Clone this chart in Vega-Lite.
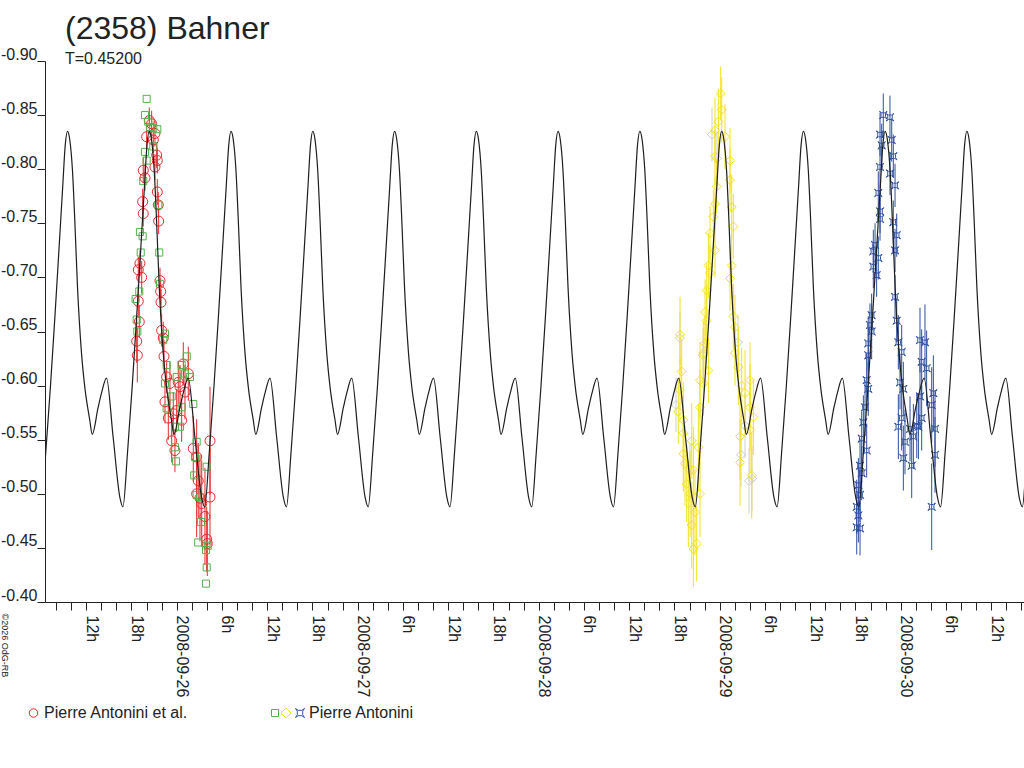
{
  "$schema": "https://vega.github.io/schema/vega-lite/v6.json",
  "width": 979,
  "height": 541,
  "autosize": "none",
  "padding": {"left": 45, "top": 61, "right": 0, "bottom": 166},
  "background": "white",
  "title": {
    "text": "(2358) Bahner",
    "subtitle": "T=0.45200",
    "anchor": "start",
    "frame": "group",
    "dx": 20,
    "offset": -22,
    "font": "Liberation Sans",
    "fontSize": 32,
    "fontWeight": "normal",
    "color": "#222",
    "subtitleFont": "Liberation Sans",
    "subtitleFontSize": 16,
    "subtitleColor": "#222",
    "subtitlePadding": 5
  },
  "datasets": {
    "model": [
      {"t": -18.38, "m": -0.497}, {"t": -17.96, "m": -0.488}, {"t": -17.36, "m": -0.538}, {"t": -16.74, "m": -0.599}, {"t": -16.17, "m": -0.661}, {"t": -15.64, "m": -0.722}, {"t": -15.11, "m": -0.784}, {"t": -14.78, "m": -0.822},
      {"t": -14.48, "m": -0.835}, {"t": -14.17, "m": -0.827}, {"t": -13.82, "m": -0.799}, {"t": -13.51, "m": -0.753}, {"t": -13.15, "m": -0.691}, {"t": -12.62, "m": -0.630}, {"t": -12.19, "m": -0.599}, {"t": -11.52, "m": -0.568}, {"t": -11.20, "m": -0.555}, {"t": -10.41, "m": -0.580}, {"t": -9.97, "m": -0.593}, {"t": -9.31, "m": -0.607}, {"t": -8.42, "m": -0.552}, {"t": -7.54, "m": -0.497}, {"t": -7.12, "m": -0.488}, {"t": -6.52, "m": -0.538}, {"t": -5.90, "m": -0.599}, {"t": -5.33, "m": -0.661}, {"t": -4.80, "m": -0.722}, {"t": -4.27, "m": -0.784}, {"t": -3.94, "m": -0.822},
      {"t": -3.64, "m": -0.835}, {"t": -3.33, "m": -0.827}, {"t": -2.98, "m": -0.799}, {"t": -2.67, "m": -0.753}, {"t": -2.31, "m": -0.691}, {"t": -1.78, "m": -0.630}, {"t": -1.35, "m": -0.599}, {"t": -0.68, "m": -0.568}, {"t": -0.36, "m": -0.555}, {"t": 0.43, "m": -0.580}, {"t": 0.87, "m": -0.593}, {"t": 1.53, "m": -0.607}, {"t": 2.42, "m": -0.552}, {"t": 3.30, "m": -0.497}, {"t": 3.72, "m": -0.488}, {"t": 4.32, "m": -0.538}, {"t": 4.94, "m": -0.599}, {"t": 5.51, "m": -0.661}, {"t": 6.04, "m": -0.722}, {"t": 6.57, "m": -0.784}, {"t": 6.90, "m": -0.822},
      {"t": 7.20, "m": -0.835}, {"t": 7.51, "m": -0.827}, {"t": 7.86, "m": -0.799}, {"t": 8.17, "m": -0.753}, {"t": 8.53, "m": -0.691}, {"t": 9.06, "m": -0.630}, {"t": 9.49, "m": -0.599}, {"t": 10.16, "m": -0.568}, {"t": 10.48, "m": -0.555}, {"t": 11.27, "m": -0.580}, {"t": 11.71, "m": -0.593}, {"t": 12.37, "m": -0.607}, {"t": 13.26, "m": -0.552}, {"t": 14.14, "m": -0.497}, {"t": 14.56, "m": -0.488}, {"t": 15.16, "m": -0.538}, {"t": 15.78, "m": -0.599}, {"t": 16.35, "m": -0.661}, {"t": 16.88, "m": -0.722}, {"t": 17.41, "m": -0.784}, {"t": 17.74, "m": -0.822},
      {"t": 18.04, "m": -0.835}, {"t": 18.35, "m": -0.827}, {"t": 18.70, "m": -0.799}, {"t": 19.01, "m": -0.753}, {"t": 19.37, "m": -0.691}, {"t": 19.90, "m": -0.630}, {"t": 20.33, "m": -0.599}, {"t": 21.00, "m": -0.568}, {"t": 21.32, "m": -0.555}, {"t": 22.11, "m": -0.580}, {"t": 22.55, "m": -0.593}, {"t": 23.21, "m": -0.607}, {"t": 24.10, "m": -0.552}, {"t": 24.98, "m": -0.497}, {"t": 25.40, "m": -0.488}, {"t": 26.00, "m": -0.538}, {"t": 26.62, "m": -0.599}, {"t": 27.19, "m": -0.661}, {"t": 27.72, "m": -0.722}, {"t": 28.25, "m": -0.784}, {"t": 28.58, "m": -0.822},
      {"t": 28.88, "m": -0.835}, {"t": 29.19, "m": -0.827}, {"t": 29.54, "m": -0.799}, {"t": 29.85, "m": -0.753}, {"t": 30.21, "m": -0.691}, {"t": 30.74, "m": -0.630}, {"t": 31.17, "m": -0.599}, {"t": 31.84, "m": -0.568}, {"t": 32.16, "m": -0.555}, {"t": 32.95, "m": -0.580}, {"t": 33.39, "m": -0.593}, {"t": 34.05, "m": -0.607}, {"t": 34.94, "m": -0.552}, {"t": 35.82, "m": -0.497}, {"t": 36.24, "m": -0.488}, {"t": 36.84, "m": -0.538}, {"t": 37.46, "m": -0.599}, {"t": 38.03, "m": -0.661}, {"t": 38.56, "m": -0.722}, {"t": 39.09, "m": -0.784}, {"t": 39.42, "m": -0.822},
      {"t": 39.72, "m": -0.835}, {"t": 40.03, "m": -0.827}, {"t": 40.38, "m": -0.799}, {"t": 40.69, "m": -0.753}, {"t": 41.05, "m": -0.691}, {"t": 41.58, "m": -0.630}, {"t": 42.01, "m": -0.599}, {"t": 42.68, "m": -0.568}, {"t": 43.00, "m": -0.555}, {"t": 43.79, "m": -0.580}, {"t": 44.23, "m": -0.593}, {"t": 44.89, "m": -0.607}, {"t": 45.78, "m": -0.552}, {"t": 46.66, "m": -0.497}, {"t": 47.08, "m": -0.488}, {"t": 47.68, "m": -0.538}, {"t": 48.30, "m": -0.599}, {"t": 48.87, "m": -0.661}, {"t": 49.40, "m": -0.722}, {"t": 49.93, "m": -0.784}, {"t": 50.26, "m": -0.822},
      {"t": 50.56, "m": -0.835}, {"t": 50.87, "m": -0.827}, {"t": 51.22, "m": -0.799}, {"t": 51.53, "m": -0.753}, {"t": 51.89, "m": -0.691}, {"t": 52.42, "m": -0.630}, {"t": 52.85, "m": -0.599}, {"t": 53.52, "m": -0.568}, {"t": 53.84, "m": -0.555}, {"t": 54.63, "m": -0.580}, {"t": 55.07, "m": -0.593}, {"t": 55.73, "m": -0.607}, {"t": 56.62, "m": -0.552}, {"t": 57.50, "m": -0.497}, {"t": 57.92, "m": -0.488}, {"t": 58.52, "m": -0.538}, {"t": 59.14, "m": -0.599}, {"t": 59.71, "m": -0.661}, {"t": 60.24, "m": -0.722}, {"t": 60.77, "m": -0.784}, {"t": 61.10, "m": -0.822},
      {"t": 61.41, "m": -0.835}, {"t": 61.72, "m": -0.827}, {"t": 62.07, "m": -0.799}, {"t": 62.38, "m": -0.753}, {"t": 62.74, "m": -0.691}, {"t": 63.27, "m": -0.630}, {"t": 63.70, "m": -0.599}, {"t": 64.37, "m": -0.568}, {"t": 64.69, "m": -0.555}, {"t": 65.48, "m": -0.580}, {"t": 65.92, "m": -0.593}, {"t": 66.58, "m": -0.607}, {"t": 67.47, "m": -0.552}, {"t": 68.35, "m": -0.497}, {"t": 68.77, "m": -0.488}, {"t": 69.37, "m": -0.538}, {"t": 69.99, "m": -0.599}, {"t": 70.56, "m": -0.661}, {"t": 71.09, "m": -0.722}, {"t": 71.62, "m": -0.784}, {"t": 71.95, "m": -0.822},
      {"t": 72.25, "m": -0.835}, {"t": 72.56, "m": -0.827}, {"t": 72.91, "m": -0.799}, {"t": 73.22, "m": -0.753}, {"t": 73.58, "m": -0.691}, {"t": 74.11, "m": -0.630}, {"t": 74.54, "m": -0.599}, {"t": 75.21, "m": -0.568}, {"t": 75.53, "m": -0.555}, {"t": 76.32, "m": -0.580}, {"t": 76.76, "m": -0.593}, {"t": 77.42, "m": -0.607}, {"t": 78.31, "m": -0.552}, {"t": 79.19, "m": -0.497}, {"t": 79.61, "m": -0.488}, {"t": 80.21, "m": -0.538}, {"t": 80.83, "m": -0.599}, {"t": 81.40, "m": -0.661}, {"t": 81.93, "m": -0.722}, {"t": 82.46, "m": -0.784}, {"t": 82.79, "m": -0.822},
      {"t": 83.09, "m": -0.835}, {"t": 83.40, "m": -0.827}, {"t": 83.75, "m": -0.799}, {"t": 84.06, "m": -0.753}, {"t": 84.42, "m": -0.691}, {"t": 84.95, "m": -0.630}, {"t": 85.38, "m": -0.599}, {"t": 86.05, "m": -0.568}, {"t": 86.37, "m": -0.555}, {"t": 87.16, "m": -0.580}, {"t": 87.60, "m": -0.593}, {"t": 88.26, "m": -0.607}, {"t": 89.15, "m": -0.552}, {"t": 90.03, "m": -0.497}, {"t": 90.45, "m": -0.488}, {"t": 91.05, "m": -0.538}, {"t": 91.67, "m": -0.599}, {"t": 92.24, "m": -0.661}, {"t": 92.77, "m": -0.722}, {"t": 93.30, "m": -0.784}, {"t": 93.63, "m": -0.822},
      {"t": 93.93, "m": -0.835}, {"t": 94.24, "m": -0.827}, {"t": 94.59, "m": -0.799}, {"t": 94.90, "m": -0.753}, {"t": 95.26, "m": -0.691}, {"t": 95.79, "m": -0.630}, {"t": 96.22, "m": -0.599}, {"t": 96.89, "m": -0.568}, {"t": 97.21, "m": -0.555}, {"t": 98.00, "m": -0.580}, {"t": 98.44, "m": -0.593}, {"t": 99.10, "m": -0.607}, {"t": 99.99, "m": -0.552}, {"t": 100.87, "m": -0.497}, {"t": 101.29, "m": -0.488}, {"t": 101.89, "m": -0.538}, {"t": 102.51, "m": -0.599}, {"t": 103.08, "m": -0.661}, {"t": 103.61, "m": -0.722}, {"t": 104.14, "m": -0.784}, {"t": 104.47, "m": -0.822},
      {"t": 104.77, "m": -0.835}, {"t": 105.08, "m": -0.827}, {"t": 105.43, "m": -0.799}, {"t": 105.74, "m": -0.753}, {"t": 106.10, "m": -0.691}, {"t": 106.63, "m": -0.630}, {"t": 107.06, "m": -0.599}, {"t": 107.73, "m": -0.568}, {"t": 108.05, "m": -0.555}, {"t": 108.84, "m": -0.580}, {"t": 109.28, "m": -0.593}, {"t": 109.94, "m": -0.607}, {"t": 110.83, "m": -0.552}, {"t": 111.71, "m": -0.497}, {"t": 112.13, "m": -0.488}, {"t": 112.73, "m": -0.538}, {"t": 113.35, "m": -0.599}
    ],
    "s1": [
      {"t": -3.63, "m": -0.845, "e": 0.012}, {"t": -3.98, "m": -0.830, "e": 0.012}, {"t": -2.88, "m": -0.833, "e": 0.012}, {"t": -3.32, "m": -0.842, "e": 0.012}, {"t": -3.10, "m": -0.827, "e": 0.012}, {"t": -2.65, "m": -0.813, "e": 0.012}, {"t": -2.57, "m": -0.808, "e": 0.012}, {"t": -2.88, "m": -0.802, "e": 0.012}, {"t": -4.43, "m": -0.799, "e": 0.012}, {"t": -4.20, "m": -0.792, "e": 0.012}, {"t": -4.51, "m": -0.770, "e": 0.012}, {"t": -4.43, "m": -0.759, "e": 0.012}, {"t": -2.57, "m": -0.779, "e": 0.012}, {"t": -2.44, "m": -0.767, "e": 0.012}, {"t": -2.39, "m": -0.752, "e": 0.012}, {"t": -4.87, "m": -0.713, "e": 0.012}, {"t": -4.64, "m": -0.700, "e": 0.015}, {"t": -5.09, "m": -0.707, "e": 0.012}, {"t": -2.21, "m": -0.697, "e": 0.012}, {"t": -2.12, "m": -0.687, "e": 0.012}, {"t": -2.08, "m": -0.677, "e": 0.012}, {"t": -5.09, "m": -0.678, "e": 0.015}, {"t": -4.96, "m": -0.659, "e": 0.015}, {"t": -5.30, "m": -0.641, "e": 0.02}, {"t": -5.22, "m": -0.628, "e": 0.025}, {"t": -1.99, "m": -0.651, "e": 0.015}, {"t": -1.78, "m": -0.644, "e": 0.015}, {"t": -1.68, "m": -0.627, "e": 0.015}, {"t": -1.33, "m": -0.608, "e": 0.015}, {"t": -0.89, "m": -0.602, "e": 0.02}, {"t": -1.55, "m": -0.585, "e": 0.02}, {"t": 0.21, "m": -0.603, "e": 0.02}, {"t": 0.44, "m": -0.599, "e": 0.02}, {"t": 1.10, "m": -0.594, "e": 0.025}, {"t": 1.54, "m": -0.611, "e": 0.025}, {"t": 0.88, "m": -0.620, "e": 0.02}, {"t": -1.11, "m": -0.570, "e": 0.02}, {"t": -0.45, "m": -0.574, "e": 0.02}, {"t": 0.00, "m": -0.577, "e": 0.02}, {"t": 0.66, "m": -0.568, "e": 0.02}, {"t": -0.66, "m": -0.549, "e": 0.02}, {"t": -0.23, "m": -0.540, "e": 0.02}, {"t": 2.20, "m": -0.542, "e": 0.03}, {"t": 2.65, "m": -0.534, "e": 0.035}, {"t": 4.42, "m": -0.549, "e": 0.05}, {"t": 2.86, "m": -0.512, "e": 0.035}, {"t": 2.65, "m": -0.500, "e": 0.04}, {"t": 3.09, "m": -0.496, "e": 0.04}, {"t": 4.42, "m": -0.497, "e": 0.045}, {"t": 3.32, "m": -0.491, "e": 0.04}, {"t": 3.75, "m": -0.479, "e": 0.045}, {"t": 3.98, "m": -0.458, "e": 0.03}, {"t": 4.06, "m": -0.454, "e": 0.03}
    ],
    "s2": [
      {"t": -3.98, "m": -0.865}, {"t": -4.20, "m": -0.850}, {"t": -3.77, "m": -0.844}, {"t": -3.54, "m": -0.839}, {"t": -3.10, "m": -0.838}, {"t": -2.57, "m": -0.837}, {"t": -4.20, "m": -0.816}, {"t": -3.10, "m": -0.821}, {"t": -3.98, "m": -0.808}, {"t": -4.43, "m": -0.789}, {"t": -2.44, "m": -0.767}, {"t": -4.87, "m": -0.742}, {"t": -4.51, "m": -0.738}, {"t": -4.77, "m": -0.723}, {"t": -2.31, "m": -0.723}, {"t": -4.96, "m": -0.687}, {"t": -5.44, "m": -0.680}, {"t": -2.21, "m": -0.694}, {"t": -5.30, "m": -0.661}, {"t": -5.22, "m": -0.650}, {"t": -1.55, "m": -0.648}, {"t": -1.78, "m": -0.642}, {"t": -1.33, "m": -0.619}, {"t": 1.33, "m": -0.627}, {"t": 0.66, "m": -0.619}, {"t": 1.10, "m": -0.611}, {"t": 0.00, "m": -0.608}, {"t": 1.76, "m": -0.608}, {"t": -1.55, "m": -0.602}, {"t": -0.66, "m": -0.590}, {"t": -1.33, "m": -0.579}, {"t": 0.66, "m": -0.580}, {"t": -0.23, "m": -0.562}, {"t": 0.44, "m": -0.562}, {"t": -0.23, "m": -0.543}, {"t": -0.09, "m": -0.530}, {"t": 2.20, "m": -0.583}, {"t": 2.65, "m": -0.548}, {"t": 2.43, "m": -0.534}, {"t": 2.33, "m": -0.517}, {"t": 3.98, "m": -0.525}, {"t": 2.65, "m": -0.499}, {"t": 3.09, "m": -0.497}, {"t": 3.22, "m": -0.474}, {"t": 2.86, "m": -0.455}, {"t": 3.89, "m": -0.448}, {"t": 4.11, "m": -0.452}, {"t": 3.98, "m": -0.432}, {"t": 3.89, "m": -0.417}
    ],
    "s3": [
      {"t": 72.13, "m": -0.870, "e": 0.025}, {"t": 71.82, "m": -0.844, "e": 0.03}, {"t": 72.27, "m": -0.855, "e": 0.03}, {"t": 71.38, "m": -0.836, "e": 0.03}, {"t": 72.71, "m": -0.830, "e": 0.03}, {"t": 71.38, "m": -0.812, "e": 0.025}, {"t": 73.37, "m": -0.808, "e": 0.03}, {"t": 73.37, "m": -0.790, "e": 0.03}, {"t": 71.60, "m": -0.784, "e": 0.025}, {"t": 71.38, "m": -0.768, "e": 0.025}, {"t": 73.59, "m": -0.765, "e": 0.03}, {"t": 71.16, "m": -0.756, "e": 0.025}, {"t": 73.81, "m": -0.747, "e": 0.03}, {"t": 70.72, "m": -0.741, "e": 0.025}, {"t": 71.38, "m": -0.725, "e": 0.025}, {"t": 70.50, "m": -0.711, "e": 0.03}, {"t": 73.59, "m": -0.711, "e": 0.03}, {"t": 73.37, "m": -0.699, "e": 0.03}, {"t": 70.72, "m": -0.704, "e": 0.025}, {"t": 70.28, "m": -0.688, "e": 0.025}, {"t": 70.06, "m": -0.668, "e": 0.03}, {"t": 70.28, "m": -0.660, "e": 0.03}, {"t": 73.81, "m": -0.664, "e": 0.03}, {"t": 74.03, "m": -0.654, "e": 0.03}, {"t": 70.06, "m": -0.639, "e": 0.025}, {"t": 69.83, "m": -0.630, "e": 0.03}, {"t": 74.03, "m": -0.630, "e": 0.03}, {"t": 70.50, "m": -0.614, "e": 0.03}, {"t": 74.47, "m": -0.617, "e": 0.035}, {"t": 66.74, "m": -0.647, "e": 0.035}, {"t": 66.96, "m": -0.613, "e": 0.03}, {"t": 69.39, "m": -0.605, "e": 0.035}, {"t": 69.83, "m": -0.602, "e": 0.03}, {"t": 66.74, "m": -0.596, "e": 0.03}, {"t": 66.51, "m": -0.576, "e": 0.03}, {"t": 74.92, "m": -0.600, "e": 0.035}, {"t": 75.36, "m": -0.593, "e": 0.04}, {"t": 76.02, "m": -0.605, "e": 0.035}, {"t": 69.39, "m": -0.580, "e": 0.035}, {"t": 76.02, "m": -0.580, "e": 0.04}, {"t": 76.46, "m": -0.571, "e": 0.035}, {"t": 74.70, "m": -0.553, "e": 0.04}, {"t": 76.02, "m": -0.559, "e": 0.04}, {"t": 67.18, "m": -0.568, "e": 0.035}, {"t": 67.18, "m": -0.556, "e": 0.035}, {"t": 68.29, "m": -0.549, "e": 0.035}, {"t": 67.18, "m": -0.537, "e": 0.035}, {"t": 69.17, "m": -0.543, "e": 0.04}, {"t": 67.40, "m": -0.528, "e": 0.035}, {"t": 74.70, "m": -0.529, "e": 0.04}, {"t": 76.25, "m": -0.517, "e": 0.04}, {"t": 67.63, "m": -0.509, "e": 0.035}, {"t": 68.07, "m": -0.500, "e": 0.04}, {"t": 69.39, "m": -0.500, "e": 0.04}, {"t": 67.84, "m": -0.491, "e": 0.04}, {"t": 68.73, "m": -0.483, "e": 0.04}, {"t": 68.29, "m": -0.471, "e": 0.04}, {"t": 68.95, "m": -0.454, "e": 0.035}, {"t": 68.51, "m": -0.449, "e": 0.035}, {"t": 68.51, "m": -0.522, "e": 0.04}
    ],
    "s4": [
      {"t": 66.74, "m": -0.644, "e": 0.025}, {"t": 66.21, "m": -0.582, "e": 0.025}, {"t": 69.79, "m": -0.628, "e": 0.025}, {"t": 71.64, "m": -0.810, "e": 0.025}, {"t": 70.98, "m": -0.832, "e": 0.025}, {"t": 74.43, "m": -0.640, "e": 0.025}, {"t": 75.36, "m": -0.563, "e": 0.03}, {"t": 75.89, "m": -0.512, "e": 0.03}, {"t": 76.29, "m": -0.514, "e": 0.03}, {"t": 68.06, "m": -0.522, "e": 0.025}, {"t": 74.83, "m": -0.536, "e": 0.03}
    ],
    "s5": [
      {"t": 93.69, "m": -0.850, "e": 0.02}, {"t": 94.58, "m": -0.848, "e": 0.02}, {"t": 93.26, "m": -0.832, "e": 0.02}, {"t": 93.48, "m": -0.822, "e": 0.02}, {"t": 94.81, "m": -0.827, "e": 0.02}, {"t": 95.02, "m": -0.812, "e": 0.02}, {"t": 93.26, "m": -0.802, "e": 0.02}, {"t": 94.58, "m": -0.796, "e": 0.02}, {"t": 95.25, "m": -0.785, "e": 0.02}, {"t": 93.03, "m": -0.778, "e": 0.02}, {"t": 93.26, "m": -0.761, "e": 0.02}, {"t": 93.26, "m": -0.754, "e": 0.02}, {"t": 95.02, "m": -0.751, "e": 0.02}, {"t": 95.47, "m": -0.739, "e": 0.02}, {"t": 92.60, "m": -0.730, "e": 0.02}, {"t": 92.37, "m": -0.724, "e": 0.02}, {"t": 93.03, "m": -0.718, "e": 0.02}, {"t": 95.25, "m": -0.725, "e": 0.02}, {"t": 92.37, "m": -0.710, "e": 0.02}, {"t": 92.81, "m": -0.702, "e": 0.02}, {"t": 95.25, "m": -0.682, "e": 0.02}, {"t": 92.15, "m": -0.665, "e": 0.02}, {"t": 91.93, "m": -0.656, "e": 0.02}, {"t": 95.47, "m": -0.660, "e": 0.02}, {"t": 92.15, "m": -0.650, "e": 0.025}, {"t": 95.69, "m": -0.640, "e": 0.025}, {"t": 91.70, "m": -0.639, "e": 0.025}, {"t": 91.70, "m": -0.628, "e": 0.025}, {"t": 96.13, "m": -0.631, "e": 0.025}, {"t": 98.56, "m": -0.642, "e": 0.03}, {"t": 99.22, "m": -0.640, "e": 0.035}, {"t": 98.78, "m": -0.622, "e": 0.03}, {"t": 99.44, "m": -0.616, "e": 0.035}, {"t": 91.49, "m": -0.605, "e": 0.025}, {"t": 91.70, "m": -0.597, "e": 0.025}, {"t": 95.91, "m": -0.603, "e": 0.025}, {"t": 96.35, "m": -0.597, "e": 0.025}, {"t": 100.33, "m": -0.593, "e": 0.035}, {"t": 98.56, "m": -0.590, "e": 0.03}, {"t": 91.27, "m": -0.580, "e": 0.025}, {"t": 100.11, "m": -0.582, "e": 0.035}, {"t": 96.13, "m": -0.570, "e": 0.03}, {"t": 98.78, "m": -0.570, "e": 0.03}, {"t": 91.05, "m": -0.566, "e": 0.025}, {"t": 95.69, "m": -0.562, "e": 0.03}, {"t": 98.13, "m": -0.563, "e": 0.03}, {"t": 97.24, "m": -0.560, "e": 0.03}, {"t": 98.35, "m": -0.562, "e": 0.03}, {"t": 100.55, "m": -0.560, "e": 0.035}, {"t": 90.83, "m": -0.551, "e": 0.025}, {"t": 97.68, "m": -0.553, "e": 0.03}, {"t": 91.49, "m": -0.540, "e": 0.025}, {"t": 96.57, "m": -0.548, "e": 0.03}, {"t": 96.35, "m": -0.533, "e": 0.03}, {"t": 97.46, "m": -0.526, "e": 0.03}, {"t": 100.55, "m": -0.536, "e": 0.035}, {"t": 90.61, "m": -0.526, "e": 0.025}, {"t": 90.83, "m": -0.519, "e": 0.025}, {"t": 90.39, "m": -0.508, "e": 0.025}, {"t": 90.61, "m": -0.499, "e": 0.025}, {"t": 90.17, "m": -0.488, "e": 0.025}, {"t": 90.39, "m": -0.480, "e": 0.025}, {"t": 90.17, "m": -0.469, "e": 0.025}, {"t": 90.61, "m": -0.468, "e": 0.025}, {"t": 100.11, "m": -0.488, "e": 0.04}
    ]
  },
  "encoding": {
    "x": {
      "field": "t",
      "type": "quantitative",
      "scale": {"domain": [-17.46, 112.35], "nice": false, "zero": false},
      "axis": {
        "title": null,
        "grid": false,
        "values": [-16, -14, -12, -10, -8, -6, -4, -2, 0, 2, 4, 6, 8, 10, 12, 14, 16, 18, 20, 22, 24, 26, 28, 30, 32, 34, 36, 38, 40, 42, 44, 46, 48, 50, 52, 54, 56, 58, 60, 62, 64, 66, 68, 70, 72, 74, 76, 78, 80, 82, 84, 86, 88, 90, 92, 94, 96, 98, 100, 102, 104, 106, 108, 110, 112],
        "labelExpr": "datum.value % 6 != 0 ? '' : ((datum.value % 24 + 24) % 24 == 0 ? utcFormat(utc(2008, 8, 26) + datum.value * 3600000, '%Y-%m-%d') : ((datum.value % 24 + 24) % 24) + 'h')",
        "labelAngle": 90,
        "labelAlign": "left",
        "labelBaseline": "alphabetic",
        "labelPadding": 5,
        "labelOverlap": false,
        "labelFlush": false,
        "tickSize": 8,
        "domainColor": "#222",
        "tickColor": "#222",
        "labelColor": "#222",
        "labelFont": "Liberation Sans",
        "labelFontSize": 16
      }
    },
    "y": {
      "field": "m",
      "type": "quantitative",
      "scale": {"domain": [-0.9, -0.4], "reverse": true, "nice": false, "zero": false},
      "axis": {
        "title": "©2026 OdG-RB",
        "titleAngle": 90,
        "titleX": -44,
        "titleY": 552,
        "titleAlign": "left",
        "titleBaseline": "alphabetic",
        "titleFont": "Liberation Sans",
        "titleFontSize": 9,
        "titleFontWeight": "normal",
        "titleColor": "#222",
        "grid": false,
        "values": [-0.9, -0.85, -0.8, -0.75, -0.7, -0.65, -0.6, -0.55, -0.5, -0.45, -0.4],
        "labelExpr": "'-' + format(abs(datum.value), '.2f')",
        "labelBaseline": "alphabetic",
        "labelOffset": -2,
        "labelPadding": 0,
        "labelFlush": false,
        "tickSize": 8,
        "domainColor": "#222",
        "tickColor": "#222",
        "labelColor": "#222",
        "labelFont": "Liberation Sans",
        "labelFontSize": 16
      }
    }
  },
  "layer": [
    {
      "data": {"name": "s1"},
      "mark": {"type": "errorbar", "color": "#e8282d", "thickness": 1, "clip": true},
      "encoding": {"yError": {"field": "e"}}
    },
    {
      "data": {"name": "s1"},
      "mark": {"type": "point", "shape": "circle", "filled": false, "size": 100, "strokeWidth": 1, "opacity": 1, "clip": true},
      "encoding": {
        "color": {
          "datum": "Pierre Antonini et al.",
          "type": "nominal",
          "scale": {"domain": ["Pierre Antonini et al."], "range": ["#e8282d"]},
          "legend": {"title": null, "orient": "none", "legendX": -19.5, "legendY": 644, "padding": 0, "symbolSize": 72, "symbolStrokeWidth": 1, "labelOffset": 2.5, "labelFont": "Liberation Sans", "labelFontSize": 16, "labelColor": "#222"}
        }
      }
    },
    {
      "data": {"name": "s2"},
      "mark": {"type": "point", "shape": "square", "filled": false, "size": 50, "strokeWidth": 1, "opacity": 1, "clip": true},
      "encoding": {
        "color": {
          "datum": "Pierre Antonini",
          "type": "nominal",
          "scale": {"domain": ["Pierre Antonini"], "range": ["#4fb548"]},
          "legend": {"title": null, "orient": "none", "legendX": 222, "legendY": 644, "padding": 0, "symbolSize": 49, "symbolStrokeWidth": 1, "labelExpr": "''", "labelFontSize": 16}
        }
      }
    },
    {
      "data": {"name": "s4"},
      "mark": {"type": "errorbar", "color": "#d0d0d0", "thickness": 1, "clip": true},
      "encoding": {"yError": {"field": "e"}}
    },
    {
      "data": {"name": "s4"},
      "mark": {"type": "point", "shape": "diamond", "filled": false, "size": 80, "strokeWidth": 1, "opacity": 1, "color": "#cccccc", "clip": true}
    },
    {
      "data": {"name": "s3"},
      "mark": {"type": "errorbar", "color": "#f2e21b", "thickness": 1, "clip": true},
      "encoding": {"yError": {"field": "e"}}
    },
    {
      "data": {"name": "s3"},
      "mark": {"type": "point", "shape": "diamond", "filled": false, "size": 80, "strokeWidth": 1, "opacity": 1, "clip": true},
      "encoding": {
        "color": {
          "datum": "Pierre Antonini ",
          "type": "nominal",
          "scale": {"domain": ["Pierre Antonini "], "range": ["#f2e21b"]},
          "legend": {"title": null, "orient": "none", "legendX": 233, "legendY": 644, "padding": 0, "symbolSize": 100, "symbolStrokeWidth": 1, "labelExpr": "''", "labelFontSize": 16}
        }
      }
    },
    {
      "data": {"name": "s5"},
      "mark": {"type": "errorbar", "color": "#2f4fa0", "thickness": 1, "clip": true},
      "encoding": {"yError": {"field": "e"}}
    },
    {
      "data": {"name": "s5"},
      "mark": {"type": "point", "shape": "M-1,-1L-0.4,-0.6L0.4,-0.6L1,-1L0.6,-0.4L0.6,0.4L1,1L0.4,0.6L-0.4,0.6L-1,1L-0.6,0.4L-0.6,-0.4Z", "filled": false, "size": 56, "strokeWidth": 1, "opacity": 1, "clip": true},
      "encoding": {
        "color": {
          "datum": "Pierre Antonini",
          "type": "nominal",
          "scale": {"domain": ["Pierre Antonini"], "range": ["#2f4fa0"]},
          "legend": {"title": null, "orient": "none", "legendX": 247, "legendY": 644, "padding": 0, "symbolSize": 81, "symbolStrokeWidth": 1, "labelOffset": 1, "labelFont": "Liberation Sans", "labelFontSize": 16, "labelColor": "#222"}
        }
      }
    },
    {
      "data": {"name": "model"},
      "mark": {"type": "line", "color": "#1e1e1e", "strokeWidth": 1.2, "interpolate": "monotone", "clip": true},
      "encoding": {}
    }
  ],
  "resolve": {"scale": {"color": "independent"}, "legend": {"color": "independent"}},
  "config": {
    "view": {"stroke": null},
    "font": "Liberation Sans"
  }
}
